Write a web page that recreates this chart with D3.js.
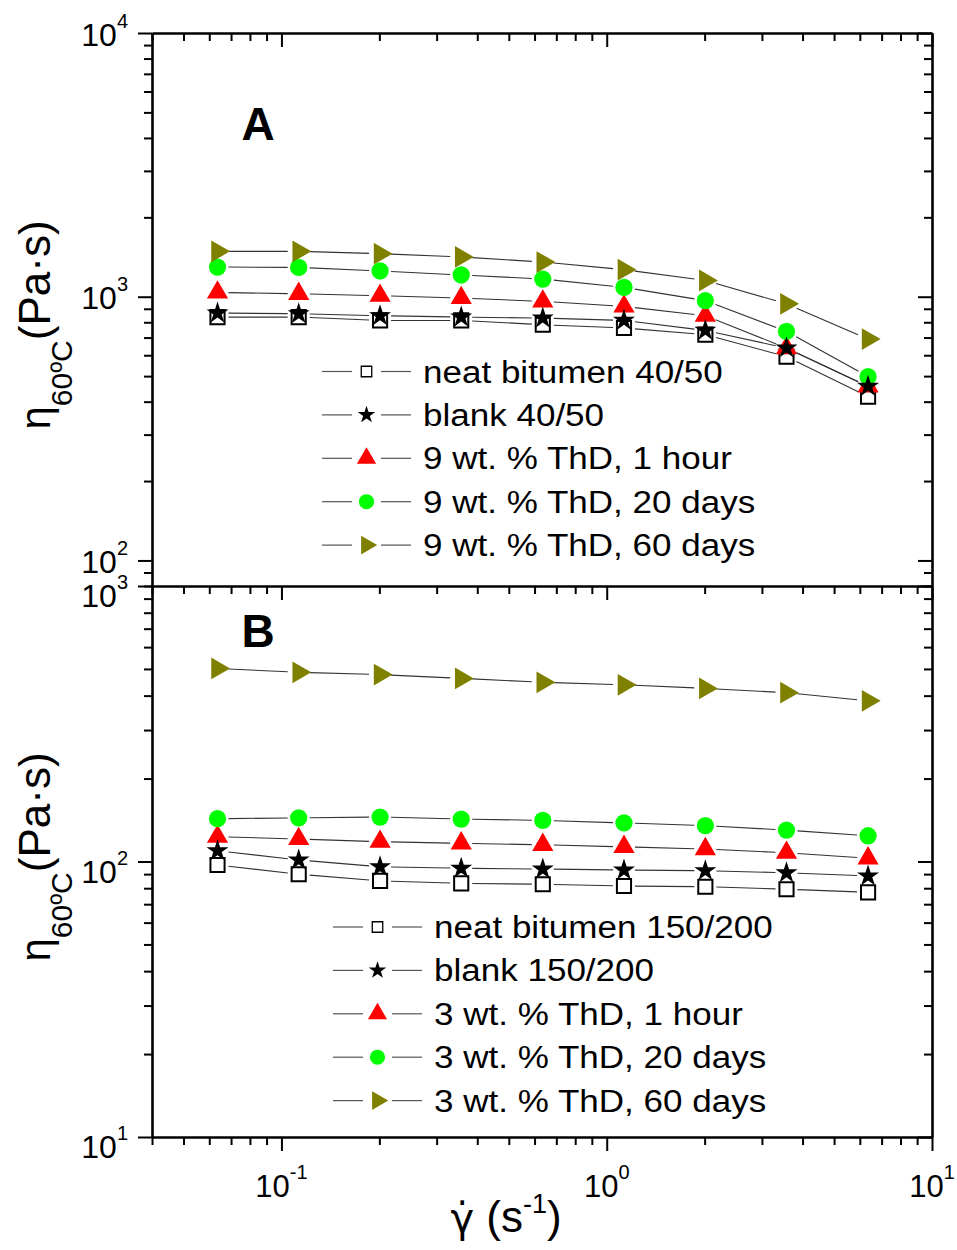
<!DOCTYPE html>
<html>
<head>
<meta charset="utf-8">
<script src="https://cdn.jsdelivr.net/npm/d3@7"></script>
<style>
body { margin: 0; background: #fff; }
svg { display: block; font-family: "Liberation Sans", Arial, sans-serif; }
</style>
</head>
<body>
<svg id="chart" width="957" height="1250"></svg>
<script>
// shear rate (1/s), shared by both panels
var shearRates = [0.0636, 0.113, 0.201, 0.357, 0.636, 1.13, 2.01, 3.57, 6.36];

// panel A, viscosity at 60 C (Pa s)
var neatA   = [837, 837, 813, 813, 783, 761, 718, 593, 418];
var blankA  = [867, 862, 847, 837, 830, 813, 745, 639, 457];
var hour1A  = [1038, 1026, 1009, 989, 960, 919, 847, 639, 457];
var days20A = [1296, 1292, 1252, 1209, 1167, 1085, 966, 739, 498];
var days60A = [1486, 1486, 1456, 1415, 1354, 1266, 1153, 940, 691];

// panel B
var neatB   = [97.1, 89.9, 85.0, 83.3, 82.7, 81.5, 81.0, 79.3, 77.3];
var blankB  = [109.4, 101.3, 95.7, 94.5, 93.9, 93.1, 92.6, 91.0, 88.6];
var hour1B  = [123, 120.7, 118, 116.4, 115, 113, 111, 107.6, 102.7];
var days20B = [143, 144, 145, 142.6, 141, 138, 135, 130, 124];
var days60B = [502, 486, 477, 462, 447, 438, 425, 410, 383];

var legendA = ["neat bitumen 40/50", "blank 40/50", "9 wt. % ThD, 1 hour", "9 wt. % ThD, 20 days", "9 wt. % ThD, 60 days"];
var legendB = ["neat bitumen 150/200", "blank 150/200", "3 wt. % ThD, 1 hour", "3 wt. % ThD, 20 days", "3 wt. % ThD, 60 days"];

var xDomain = [0.04, 10];
var yDomainA = [80, 10000];
var yDomainB = [10, 1000];
var xExp = ["-1", "0", "1"];

var left = 152, right = 932,
	topA = 33, botA = 586,
	topB = 586, botB = 1137;

var svg = d3.select("#chart");

var x = d3.scaleLog().domain(xDomain).range([left, right]);
var yA = d3.scaleLog().domain(yDomainA).range([botA, topA]);
var yB = d3.scaleLog().domain(yDomainB).range([botB, topB]);

// marker styles, in the order of the series arrays
var styles = [
	{ type: d3.symbolSquare,   size: 200, lsize: 110, fill: "#fff",    stroke: "#000", sw: 2,   lsw: 1.3, rot: 0 },
	{ type: d3.symbolStar,     size: 150, lsize: 95,  fill: "#000",    stroke: "none", sw: 0,   lsw: 0,   rot: 0 },
	{ type: d3.symbolTriangle, size: 195, lsize: 160, fill: "#ff0000", stroke: "none", sw: 0,   lsw: 0,   rot: 0 },
	{ type: d3.symbolCircle,   size: 235, lsize: 180, fill: "#00ff00", stroke: "none", sw: 0,   lsw: 0,   rot: 0 },
	{ type: d3.symbolTriangle, size: 205, lsize: 150, fill: "#808000", stroke: "none", sw: 0,   lsw: 0,   rot: 90 }
];
var drawOrder = [0, 2, 3, 4, 1];

function isMajor(v) {
	var l = Math.log10(v);
	return Math.abs(l - Math.round(l)) < 1e-9;
}

function drawAxis(axisFn, scale, tx, ty) {
	var all = scale.ticks();
	var minor = all.filter(function(d) { return !isMajor(d); });
	var major = all.filter(isMajor);
	[[minor, 8], [major, 14]].forEach(function(p, i) {
		var g = svg.append("g")
			.attr("transform", "translate(" + tx + "," + ty + ")")
			.call(axisFn(scale).tickValues(p[0]).tickSize(p[1]).tickSizeOuter(0).tickFormat(""));
		g.selectAll(".tick line").attr("stroke", "#000").attr("stroke-width", 2);
		g.select(".domain").attr("stroke", i == 0 ? "#000" : "none").attr("stroke-width", 2.6);
	});
}

// panel A frame
drawAxis(d3.axisBottom, x, 0, topA);           // top, inward
drawAxis(d3.axisLeft, yA, left, 0);            // left, outward
drawAxis(d3.axisLeft, yA, right, 0);           // right, inward
// panel B frame
drawAxis(d3.axisBottom, x, 0, topB);           // top, inward
drawAxis(d3.axisBottom, x, 0, botB);           // bottom, outward
drawAxis(d3.axisLeft, yB, left, 0);            // left, outward
drawAxis(d3.axisLeft, yB, right, 0);           // right, inward

function powLabel(px, py, exp, anchor, size) {
	var t = svg.append("text")
		.attr("x", px)
		.attr("y", py)
		.attr("text-anchor", anchor)
		.attr("font-size", size);
	t.append("tspan").text("10");
	t.append("tspan").attr("font-size", 20).attr("dy", -18).text(exp);
}

x.ticks().filter(isMajor).forEach(function(d, i) {
	powLabel(x(d), 1197, xExp[i], "middle", 31);
});
yA.ticks().filter(isMajor).forEach(function(d) {
	powLabel(128, yA(d) + 12.5, String(Math.round(Math.log10(d))), "end", 32);
});
yB.ticks().filter(isMajor).forEach(function(d) {
	powLabel(128, yB(d) + 21, String(Math.round(Math.log10(d))), "end", 32);
});

function drawPanel(series, y) {
	var gap = 11;
	series.forEach(function(vals) {
		var pts = vals.map(function(v, i) { return [x(shearRates[i]), y(v)]; });
		for (var i = 0; i < pts.length - 1; i++) {
			var dx = pts[i + 1][0] - pts[i][0], dy = pts[i + 1][1] - pts[i][1];
			var len = Math.sqrt(dx * dx + dy * dy);
			if (len <= gap * 2) continue;
			var ux = dx / len, uy = dy / len;
			svg.append("line")
				.attr("x1", pts[i][0] + ux * gap).attr("y1", pts[i][1] + uy * gap)
				.attr("x2", pts[i + 1][0] - ux * gap).attr("y2", pts[i + 1][1] - uy * gap)
				.attr("stroke", "#333")
				.attr("stroke-width", 1.1);
		}
	});
	drawOrder.forEach(function(k) {
		var s = styles[k];
		svg.append("g").selectAll("path")
			.data(series[k])
			.enter()
			.append("path")
			.attr("d", d3.symbol().type(s.type).size(s.size))
			.attr("transform", function(d, i) {
				return "translate(" + x(shearRates[i]) + "," + y(d) + ") rotate(" + s.rot + ")";
			})
			.attr("fill", s.fill)
			.attr("stroke", s.stroke)
			.attr("stroke-width", s.sw);
	});
}

drawPanel([neatA, blankA, hour1A, days20A, days60A], yA);
drawPanel([neatB, blankB, hour1B, days20B, days60B], yB);

function drawLegend(labels, lx, ly, step) {
	labels.forEach(function(lab, i) {
		var s = styles[i], cy = ly + i * step;
		var g = svg.append("g").attr("transform", "translate(" + lx + "," + cy + ")");
		g.append("line").attr("x1", 0).attr("x2", 30).attr("y1", 0).attr("y2", 0)
			.attr("stroke", "#555").attr("stroke-width", 1.2);
		g.append("line").attr("x1", 59).attr("x2", 89).attr("y1", 0).attr("y2", 0)
			.attr("stroke", "#555").attr("stroke-width", 1.2);
		g.append("path")
			.attr("d", d3.symbol().type(s.type).size(s.lsize))
			.attr("transform", "translate(44.5,0) rotate(" + s.rot + ")")
			.attr("fill", s.fill)
			.attr("stroke", s.stroke)
			.attr("stroke-width", s.lsw);
		g.append("text")
			.attr("transform", "translate(101,11) scale(1.13,1)")
			.attr("font-size", 31)
			.text(lab);
	});
}

drawLegend(legendA, 322, 371.5, 43.4);
drawLegend(legendB, 333, 927, 43.4);

// panel letters
svg.append("text").attr("x", 258).attr("y", 140).attr("text-anchor", "middle")
	.attr("font-size", 46).attr("font-weight", "bold").text("A");
svg.append("text").attr("x", 258).attr("y", 647).attr("text-anchor", "middle")
	.attr("font-size", 46).attr("font-weight", "bold").text("B");

// y titles
function yTitle(cx, cy) {
	var t = svg.append("text")
		.attr("transform", "translate(" + cx + "," + cy + ") rotate(-90)")
		.attr("text-anchor", "middle");
	t.append("tspan").attr("font-size", 42).text("η");
	t.append("tspan").attr("font-size", 30).attr("dy", 22).text("60ºC");
	t.append("tspan").attr("font-size", 44).attr("dy", -22).text("(Pa·s)");
}
yTitle(50, 325);
yTitle(50, 857);

// x title
var xt = svg.append("text")
	.attr("x", 506)
	.attr("y", 1232)
	.attr("text-anchor", "middle")
	.attr("font-size", 44);
xt.append("tspan").attr("font-family", "DejaVu Sans").attr("font-size", 40).text("γ̇");
xt.append("tspan").text(" (s");
xt.append("tspan").attr("font-size", 27).attr("dy", -19).text("-1");
xt.append("tspan").attr("dy", 19).text(")");
</script>
</body>
</html>
